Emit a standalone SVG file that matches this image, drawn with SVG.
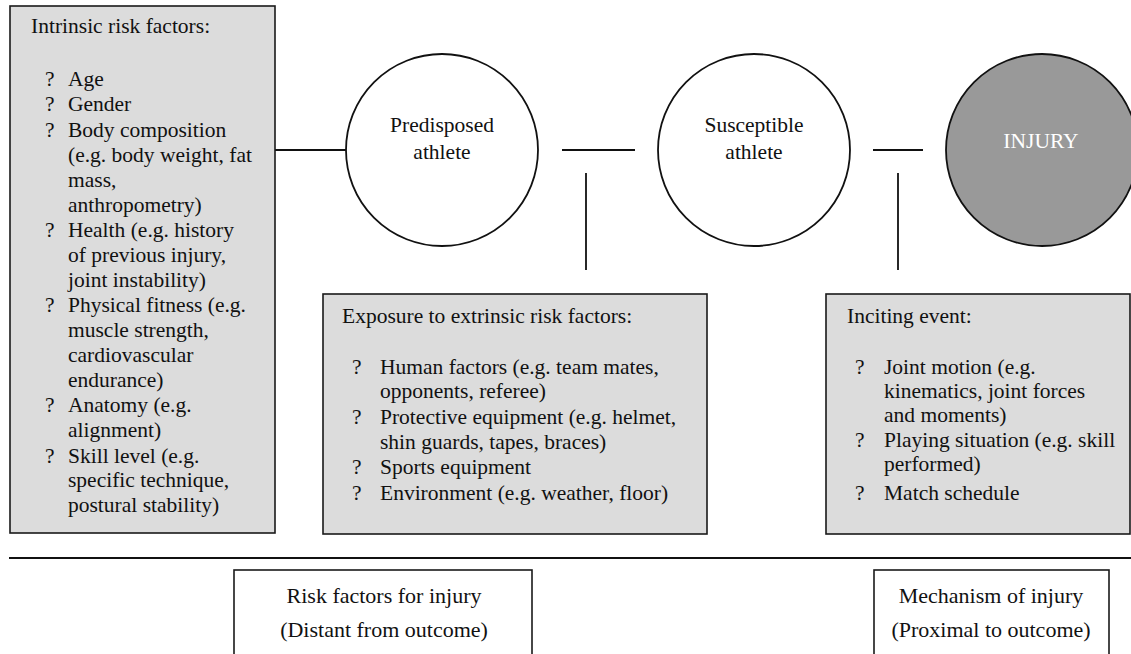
<svg xmlns="http://www.w3.org/2000/svg" width="1131" height="654" viewBox="0 0 1131 654">
<style>
text{font-family:"Liberation Serif","Times New Roman",serif;font-size:21.5px;fill:#111}
.box{fill:#dcdcdc;stroke:#1a1a1a;stroke-width:1.6}
.wbox{fill:#fff;stroke:#1a1a1a;stroke-width:1.6}
.circ{fill:#fff;stroke:#111;stroke-width:1.8}
.ln{stroke:#111;stroke-width:1.8;fill:none}
.c{text-anchor:middle}
.b{font-size:22px}
</style>
<rect width="1131" height="654" fill="#fff"/>
<g id="connectors">
<line class="ln" x1="275" y1="150" x2="346" y2="150"/>
<line class="ln" x1="562" y1="150" x2="635" y2="150"/>
<line class="ln" x1="586" y1="173" x2="586" y2="270"/>
<line class="ln" x1="873" y1="150" x2="923" y2="150"/>
<line class="ln" x1="898" y1="173" x2="898" y2="270"/>
<line class="ln" x1="9" y1="558" x2="1131" y2="558" stroke-width="2"/>
</g>
<g id="intrinsic">
<rect class="box" x="10" y="6" width="265" height="527"/>
<text x="31" y="33">Intrinsic risk factors:</text>
<g>
<text x="45" y="86">?</text><text x="68" y="86">Age</text>
<text x="45" y="111">?</text><text x="68" y="111">Gender</text>
<text x="45" y="137">?</text><text x="68" y="137">Body composition</text>
<text x="68" y="162">(e.g. body weight, fat</text>
<text x="68" y="187">mass,</text>
<text x="68" y="212">anthropometry)</text>
<text x="45" y="237">?</text><text x="68" y="237">Health (e.g. history</text>
<text x="68" y="262">of previous injury,</text>
<text x="68" y="287">joint instability)</text>
<text x="45" y="312">?</text><text x="68" y="312">Physical fitness (e.g.</text>
<text x="68" y="337">muscle strength,</text>
<text x="68" y="362">cardiovascular</text>
<text x="68" y="387">endurance)</text>
<text x="45" y="412">?</text><text x="68" y="412">Anatomy (e.g.</text>
<text x="68" y="437">alignment)</text>
<text x="45" y="463">?</text><text x="68" y="463">Skill level (e.g.</text>
<text x="68" y="487">specific technique,</text>
<text x="68" y="512">postural stability)</text>
</g>
</g>
<g id="predisposed">
<circle class="circ" cx="442" cy="150" r="96"/>
<text class="c" x="442" y="132">Predisposed</text>
<text class="c" x="442" y="159">athlete</text>
</g>
<g id="susceptible">
<circle class="circ" cx="754" cy="150" r="96"/>
<text class="c" x="754" y="132">Susceptible</text>
<text class="c" x="754" y="159">athlete</text>
</g>
<g id="injury">
<circle class="circ" cx="1042" cy="150" r="96" style="fill:#999"/>
<text class="c" x="1041" y="148" style="fill:#fff">INJURY</text>
</g>
<g id="extrinsic">
<rect class="box" x="323" y="294" width="384" height="240"/>
<text x="342" y="323">Exposure to extrinsic risk factors:</text>
<text x="352" y="374">?</text><text x="380" y="374">Human factors (e.g. team mates,</text>
<text x="380" y="398">opponents, referee)</text>
<text x="352" y="424">?</text><text x="380" y="424">Protective equipment (e.g. helmet,</text>
<text x="380" y="449">shin guards, tapes, braces)</text>
<text x="352" y="474">?</text><text x="380" y="474">Sports equipment</text>
<text x="352" y="500">?</text><text x="380" y="500">Environment (e.g. weather, floor)</text>
</g>
<g id="inciting">
<rect class="box" x="826" y="294" width="304" height="240"/>
<text x="847" y="323">Inciting event:</text>
<text x="855" y="374">?</text><text x="884" y="374">Joint motion (e.g.</text>
<text x="884" y="398">kinematics, joint forces</text>
<text x="884" y="422">and moments)</text>
<text x="855" y="447">?</text><text x="884" y="447">Playing situation (e.g. skill</text>
<text x="884" y="471">performed)</text>
<text x="855" y="500">?</text><text x="884" y="500">Match schedule</text>
</g>
<g id="risk-factors">
<rect class="wbox" x="234" y="570" width="298" height="100"/>
<text class="c b" x="384" y="603">Risk factors for injury</text>
<text class="c b" x="384" y="637">(Distant from outcome)</text>
</g>
<g id="mechanism">
<rect class="wbox" x="874" y="570" width="235" height="100"/>
<text class="c b" x="991" y="603">Mechanism of injury</text>
<text class="c b" x="991" y="637">(Proximal to outcome)</text>
</g>
</svg>
